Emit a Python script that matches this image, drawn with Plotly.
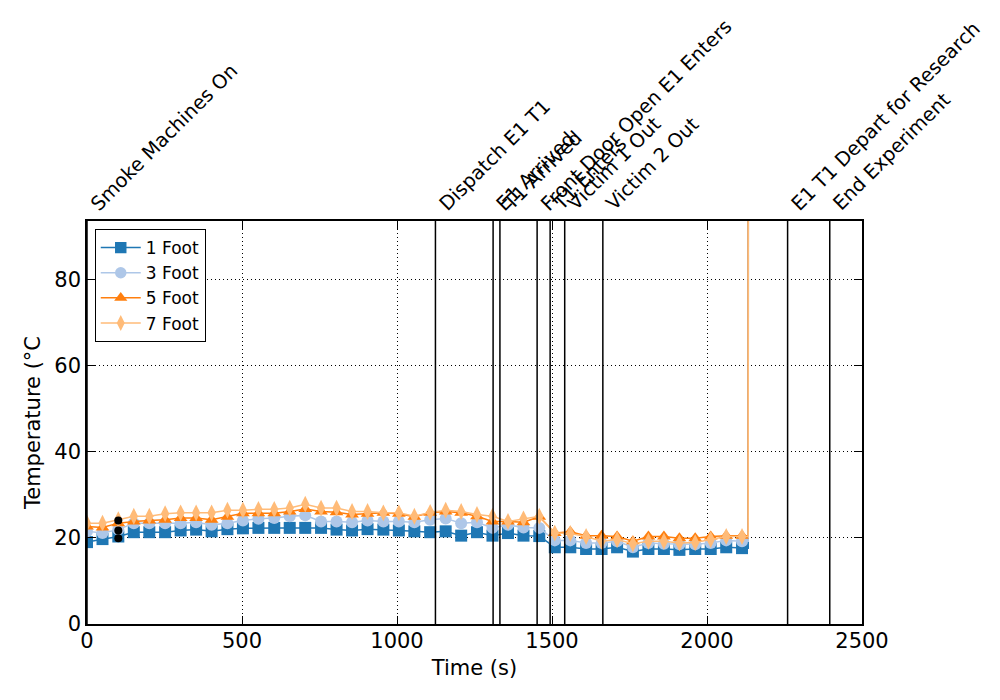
import plotly.graph_objects as go

# time stamps (s); last two points are the end-of-test spike
times = [0, 50, 101, 151, 201, 252, 302, 352, 402, 453, 503, 553, 604, 654, 704,
         755, 805, 855, 905, 956, 1006, 1056, 1107, 1157, 1207, 1258, 1308, 1358,
         1408, 1459, 1509, 1559, 1610, 1660, 1710, 1761, 1811, 1861, 1911, 1962,
         2012, 2062, 2113, 2133, 2134]

temp_1ft = [19.0, 19.7, 20.3, 21.3, 21.3, 21.3, 21.7, 21.9, 21.5, 22.0, 22.2, 22.3,
            22.3, 22.3, 22.3, 22.3, 21.9, 21.7, 22.0, 21.9, 21.7, 21.5, 21.3, 21.5,
            20.5, 21.3, 20.5, 21.1, 20.5, 20.4, 17.8, 17.8, 17.4, 17.4, 17.8, 16.8,
            17.4, 17.4, 17.2, 17.4, 17.4, 17.8, 17.6, 17.6, 400]
temp_3ft = [21.5, 21.1, 21.9, 23.4, 23.4, 23.4, 23.4, 23.6, 23.0, 23.4, 24.0, 24.4,
            24.6, 25.0, 25.2, 23.8, 23.8, 23.6, 24.0, 23.8, 23.8, 23.6, 24.2, 24.5,
            23.4, 23.6, 22.3, 23.0, 22.4, 22.3, 19.4, 19.4, 18.8, 18.8, 19.2, 17.8,
            18.8, 18.6, 18.5, 18.5, 18.8, 19.4, 19.2, 19.2, 400]
temp_5ft = [22.6, 22.4, 23.4, 23.8, 24.0, 24.2, 24.6, 24.6, 24.2, 24.9, 25.7, 25.7,
            25.7, 26.1, 26.7, 26.1, 25.9, 25.4, 25.6, 25.8, 25.6, 24.9, 25.8, 26.1,
            25.8, 25.0, 23.8, 23.8, 23.6, 24.9, 21.1, 21.4, 20.5, 20.5, 20.3, 19.2,
            20.3, 20.3, 19.9, 19.9, 20.3, 20.5, 20.5, 20.5, 400]
temp_7ft = [23.4, 23.4, 24.2, 25.0, 25.0, 25.6, 25.8, 25.8, 25.8, 26.4, 26.4, 26.6,
            26.6, 26.9, 27.8, 26.9, 26.9, 26.1, 26.1, 25.8, 25.8, 25.0, 25.9, 26.4,
            26.1, 25.4, 25.0, 23.8, 24.4, 25.0, 21.1, 21.0, 20.3, 19.2, 19.6, 18.6,
            19.2, 19.2, 18.8, 18.9, 19.6, 20.3, 20.3, 20.3, 400]

# stray black points near t=100
black_t = [101, 101, 101]
black_v = [24.0, 21.7, 19.9]

event_times = [0, 1124, 1310, 1332, 1452, 1494, 1541, 1664, 2260, 2396]
event_labels = ['Smoke Machines On', 'Dispatch E1 T1', 'E1 Arrived', 'T1 Arrived',
                'Front Door Open E1 Enters', 'T1 Enters', 'Victim 1 Out',
                'Victim 2 Out', 'E1 T1 Depart for Research', 'End Experiment']

series = [
    ('1 Foot', temp_1ft, '#1f77b4', 'square'),
    ('3 Foot', temp_3ft, '#aec7e8', 'circle'),
    ('5 Foot', temp_5ft, '#ff7f0e', 'triangle-up'),
    ('7 Foot', temp_7ft, '#ffbb78', 'diamond-tall'),
]

fig = go.Figure()

for t in event_times:
    fig.add_shape(type='line', x0=t, x1=t, y0=0, y1=1, xref='x', yref='paper',
                  line=dict(color='black', width=1.5), layer='above')

n_mark = len(times) - 2
for name, vals, col, sym in series:
    fig.add_trace(go.Scatter(
        x=times, y=vals, name=name, mode='lines+markers',
        line=dict(color=col, width=1.5),
        marker=dict(symbol=sym, color=col, size=[12] * n_mark + [0, 0],
                    opacity=1, line=dict(width=0)),
    ))

fig.add_trace(go.Scatter(x=black_t, y=black_v, mode='markers', showlegend=False,
                         marker=dict(color='black', size=8)))

for t, lab in zip(event_times, event_labels):
    fig.add_annotation(x=t, y=1.0, xref='x', yref='paper', text=lab,
                       textangle=-45, xanchor='left', yanchor='bottom',
                       showarrow=False, yshift=3, xshift=-4,
                       font=dict(size=19.5, color='black'))

axis_common = dict(
    showline=True, linecolor='black', linewidth=1.5, mirror='ticks',
    ticks='inside', ticklen=8, tickcolor='black',
    showgrid=True, gridcolor='black', griddash='1px,3px', gridwidth=1,
    zeroline=False, tickfont=dict(size=21),
)

fig.update_layout(
    width=1000, height=700,
    paper_bgcolor='white', plot_bgcolor='white',
    font=dict(family='DejaVu Sans', color='black'),
    margin=dict(l=79, r=146, t=213, b=84),
    xaxis=dict(range=[0, 2500], tickvals=[0, 500, 1000, 1500, 2000, 2500],
               ticklabelstandoff=-3,
               title=dict(text='Time (s)', font=dict(size=21), standoff=8),
               **axis_common),
    yaxis=dict(range=[0, 93.5], tickvals=[0, 20, 40, 60, 80],
               title=dict(text='Temperature (°C', font=dict(size=21), standoff=8),
               **axis_common),
    legend=dict(x=0.01, y=0.98, xanchor='left', yanchor='top',
                bordercolor='black', borderwidth=1, bgcolor='white',
                font=dict(size=17), itemwidth=40, tracegroupgap=0),
    showlegend=True,
)

fig.write_html('out.html')
